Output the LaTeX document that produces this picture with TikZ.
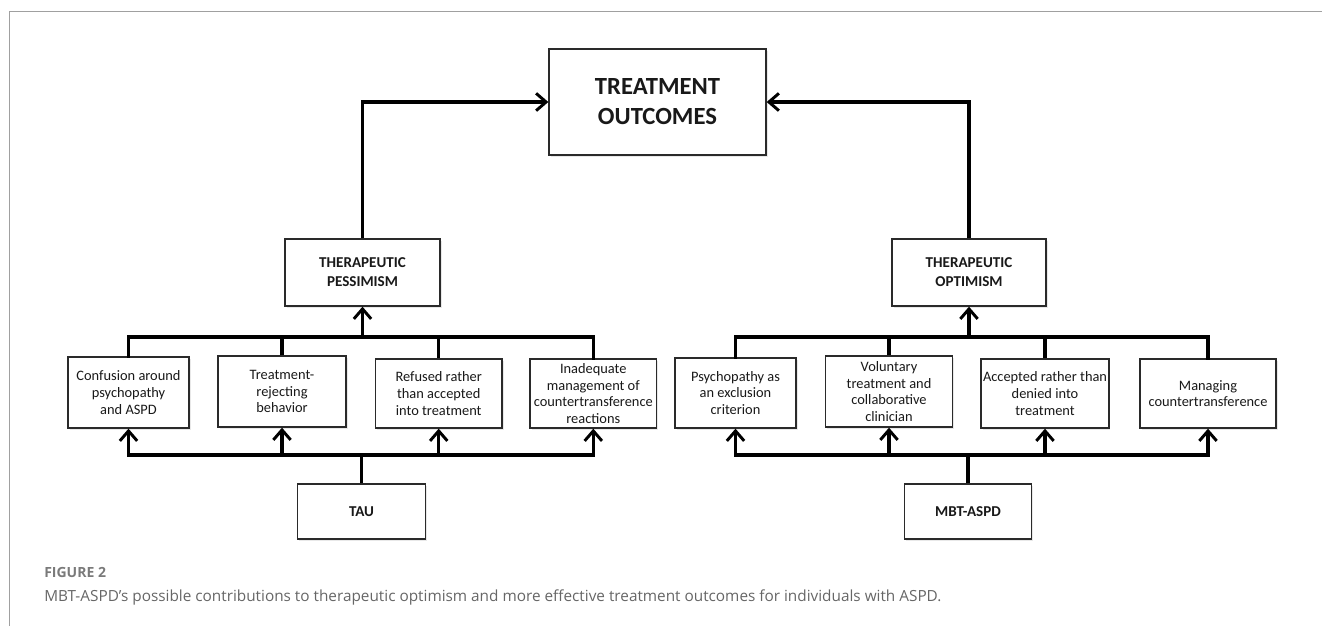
\documentclass[tikz,border=0pt]{standalone}
\usepackage{fontspec}
\setmainfont{Carlito}
\newfontfamily\capfont{Open Sans}
\usetikzlibrary{arrows.meta,shadows}
\definecolor{framegray}{HTML}{A0A0A0}
\definecolor{capgray}{HTML}{666666}
\definecolor{figgray}{HTML}{7A7A7A}
\definecolor{boxline}{HTML}{2A2A2A}
\begin{document}
\begin{tikzpicture}[x=0.75pt,y=-0.75pt,
  box/.style={draw=boxline,line width=1pt,fill=white,align=center,inner sep=1pt,
    drop shadow={shadow xshift=1.2pt,shadow yshift=-1.5pt,opacity=0.18},
    font=\fontsize{10.8pt}{12.5pt}\selectfont,text=black!90},
  sz/.style 2 args={minimum width=#1*0.75pt,minimum height=#2*0.75pt},
  titlebox/.style={box,font=\fontsize{11.3pt}{14.3pt}\selectfont\bfseries},
  bigbox/.style={box,font=\fontsize{18.5pt}{22.5pt}\selectfont\bfseries},
  conn/.style={line width=2.4pt,black},
  arr/.style={conn,-{Straight Barb[length=7.5pt,width=13pt,line width=2.2pt]}},
  frameline/.style={draw=framegray,line width=0.9pt}
]
\useasboundingbox (0,0) rectangle (1322,626);
% frame
\coordinate (fTL) at (9.3,11.7);
\coordinate (fBL) at (9.3,626);
\coordinate (fTR) at (1322,11.7);
\draw[frameline] (fBL) -- (fTL) -- (fTR);

% nodes
\node[bigbox,sz={217}{106}] (TO) at (657.5,102) {TREATMENT\\OUTCOMES};
\node[titlebox,sz={155}{67}] (PES) at (362.5,272.5) {THERAPEUTIC\\PESSIMISM};
\node[titlebox,sz={154}{67}] (OPT) at (969,272.5) {THERAPEUTIC\\OPTIMISM};

\node[box,sz={121}{71}] (B1) at (128.5,392.5) {Confusion around\\psychopathy\\and ASPD};
\node[box,sz={128}{71}] (B2) at (282,391.5) {Treatment-\\rejecting\\behavior};
\node[box,sz={126.6}{69}] (B3) at (438.7,393.5) {Refused rather\\than accepted\\into treatment};
\node[box,sz={126.6}{69}] (B4) at (593.3,393.5) {Inadequate\\management of\\countertransference\\reactions};

\node[box,sz={121}{70}] (R1) at (735.5,393) {Psychopathy as\\an exclusion\\criterion};
\node[box,sz={127.5}{71}] (R2) at (889,391.5) {Voluntary\\treatment and\\collaborative\\clinician};
\node[box,sz={127.7}{69}] (R3) at (1045,393.5) {Accepted rather than\\denied into\\treatment};
\node[box,sz={136}{69}] (R4) at (1208,393.5) {Managing\\countertransference};

\node[titlebox,sz={128}{55}] (TAU) at (361.5,511.5) {TAU};
\node[titlebox,sz={127}{55}] (MBT) at (968,511.5) {MBT-ASPD};

% bus coordinates
\coordinate (ubL) at (362,337);
\coordinate (lbL) at (362,455);
\coordinate (ubR) at (969,337);
\coordinate (lbR) at (969,455);

% top arrows
\draw[arr] (PES.north) |- (TO.west);
\draw[arr] (OPT.north) |- (TO.east);

% left upper bus
\draw[conn,line cap=rect] (B1.north) |- (B4.north |- ubL) -- (B4.north);
\draw[conn] (B2.north) -- (B2.north |- ubL);
\draw[conn] (B3.north) -- (B3.north |- ubL);
\draw[arr] (PES.south |- ubL) -- (PES.south);
% left lower bus
\draw[conn,line cap=rect] (B1.south |- lbL) -- (B4.south |- lbL);
\foreach \n in {B1,B2,B3,B4}{\draw[arr] (\n.south |- lbL) -- (\n.south);}
\draw[conn] (TAU.north) -- (TAU.north |- lbL);

% right upper bus
\draw[conn,line cap=rect] (R1.north) |- (R4.north |- ubR) -- (R4.north);
\draw[conn] (R2.north) -- (R2.north |- ubR);
\draw[conn] (R3.north) -- (R3.north |- ubR);
\draw[arr] (OPT.south |- ubR) -- (OPT.south);
% right lower bus
\draw[conn,line cap=rect] (R1.south |- lbR) -- (R4.south |- lbR);
\foreach \n in {R1,R2,R3,R4}{\draw[arr] (\n.south |- lbR) -- (\n.south);}
\draw[conn] (MBT.north) -- (MBT.north |- lbR);

% caption
\node[anchor=base west,inner sep=0,text=figgray,font=\capfont\fontsize{10.5pt}{12pt}\selectfont\bfseries] (fig) at (44,577) {FIGURE 2};
\node[anchor=base west,inner sep=0,text=capgray,font=\capfont\fontsize{11.5pt}{14pt}\selectfont] (cap) at (44,601) {MBT-ASPD’s possible contributions to therapeutic optimism and more effective treatment outcomes for individuals with ASPD.};
\end{tikzpicture}
\end{document}
